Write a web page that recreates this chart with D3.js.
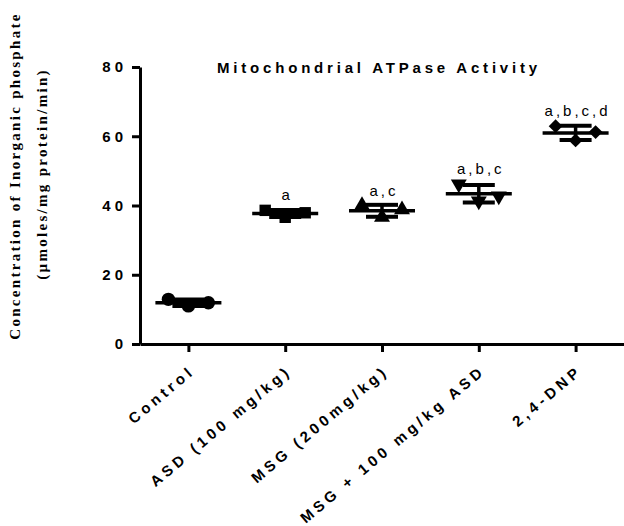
<!DOCTYPE html>
<html>
<head>
<meta charset="utf-8">
<script src="https://d3js.org/d3.v7.min.js"></script>
<style>
    body { margin: 0; background: #fff; }
    svg { display: block; }
    .axis text {
        font-family: "Liberation Sans", Arial, sans-serif;
        font-weight: bold;
        font-size: 15px;
        letter-spacing: 4px;
        fill: #000;
    }
    .axis path, .axis line { stroke: #000; stroke-width: 3; }
    .sig { font-family: "Liberation Sans", Arial, sans-serif; font-size: 15px; letter-spacing: 3px; }
    .title { font-family: "Liberation Sans", Arial, sans-serif; font-weight: bold; font-size: 15px; letter-spacing: 3.8px; }
    .ylabel { font-family: "Liberation Serif", "Times New Roman", serif; font-weight: bold; font-size: 15px; letter-spacing: 2.3px; }
</style>
</head>
<body>
<script>
// data (3 replicates per group)
let categories = ["Control", "ASD (100 mg/kg)", "MSG (200mg/kg)", "MSG + 100 mg/kg ASD", "2,4-DNP"];
let control = [12.9, 11.0, 11.9];
let asd = [38.6, 36.6, 37.9];
let msg = [40.0, 36.6, 38.8];
let msgAsd = [46.2, 41.3, 42.7];
let dnp = [62.9, 58.8, 61.2];
let sigLetters = ["", "a", "a,c", "a,b,c", "a,b,c,d"];
let yTicks = [0, 20, 40, 60, 80];

let groups = [control, asd, msg, msgAsd, dnp];

let margin = {top: 67, right: 0, left: 140, bottom: 182};
let width = 624 - margin.left - margin.right;
let height = 526 - margin.top - margin.bottom;

let svg = d3.select("body")
    .append("svg")
    .attr("width", width + margin.left + margin.right)
    .attr("height", height + margin.top + margin.bottom);

let chart = svg.append("g")
    .attr("transform", "translate(" + margin.left + ", " + margin.top + ")");

let xScale = d3.scalePoint().domain(categories).range([0, width]).padding(0.5);
let yScale = d3.scaleLinear().domain([0, 80]).range([height, 0]);

// axes
let yAxis = d3.axisLeft(yScale).tickValues(yTicks).tickSize(8).tickSizeOuter(0).tickPadding(5);
let xAxis = d3.axisBottom(xScale).tickSize(8).tickSizeOuter(0);

chart.append("g")
    .attr("class", "axis")
    .call(yAxis);

let gx = chart.append("g")
    .attr("class", "axis")
    .attr("transform", "translate(0," + height + ")")
    .call(xAxis);

gx.selectAll("text")
    .attr("text-anchor", "end")
    .attr("dy", 0)
    .attr("transform", "translate(0,20) rotate(-40)");

// symbols for each group
let symbols = [
    d3.symbol().type(d3.symbolCircle).size(140),
    d3.symbol().type(d3.symbolSquare).size(130),
    d3.symbol().type(d3.symbolTriangle).size(110),
    d3.symbol().type(d3.symbolTriangle).size(110),
    d3.symbol().type(d3.symbolSquare).size(95)
];
let rotations = [0, 0, 0, 180, 45];
let jitter = [-20, 0, 20];

groups.forEach((vals, i) => {
    let cx = xScale(categories[i]);
    let m = d3.mean(vals);
    let sd = d3.deviation(vals);
    let g = chart.append("g");

    g.selectAll("path.pt")
        .data(vals)
        .enter()
        .append("path")
        .attr("class", "pt")
        .attr("d", symbols[i])
        .attr("fill", "#000")
        .attr("transform", (d, j) => "translate(" + (cx + jitter[j]) + "," + yScale(d) + ") rotate(" + rotations[i] + ")");

    // mean line
    g.append("line")
        .attr("x1", cx - 33).attr("x2", cx + 33)
        .attr("y1", yScale(m)).attr("y2", yScale(m))
        .attr("stroke", "#000").attr("stroke-width", 3.5);
    // sd whisker
    g.append("line")
        .attr("x1", cx).attr("x2", cx)
        .attr("y1", yScale(m - sd)).attr("y2", yScale(m + sd))
        .attr("stroke", "#000").attr("stroke-width", 3.5);
    [m - sd, m + sd].forEach(v => {
        g.append("line")
            .attr("x1", cx - 16).attr("x2", cx + 16)
            .attr("y1", yScale(v)).attr("y2", yScale(v))
            .attr("stroke", "#000").attr("stroke-width", 4);
    });

    g.append("text")
        .attr("class", "sig")
        .attr("x", cx + 2)
        .attr("y", yScale(d3.max(vals)) - 10)
        .attr("text-anchor", "middle")
        .text(sigLetters[i]);
});

// title
svg.append("text")
    .attr("class", "title")
    .attr("x", 379)
    .attr("y", 73)
    .attr("text-anchor", "middle")
    .text("Mitochondrial ATPase Activity");

// y axis label (two lines)
svg.append("text")
    .attr("class", "ylabel")
    .attr("transform", "translate(20,176) rotate(-90)")
    .attr("text-anchor", "middle")
    .text("Concentration of Inorganic phosphate");

svg.append("text")
    .attr("class", "ylabel")
    .attr("transform", "translate(47,174) rotate(-90)")
    .attr("text-anchor", "middle")
    .text("(µmoles/mg protein/min)");
</script>
</body>
</html>
